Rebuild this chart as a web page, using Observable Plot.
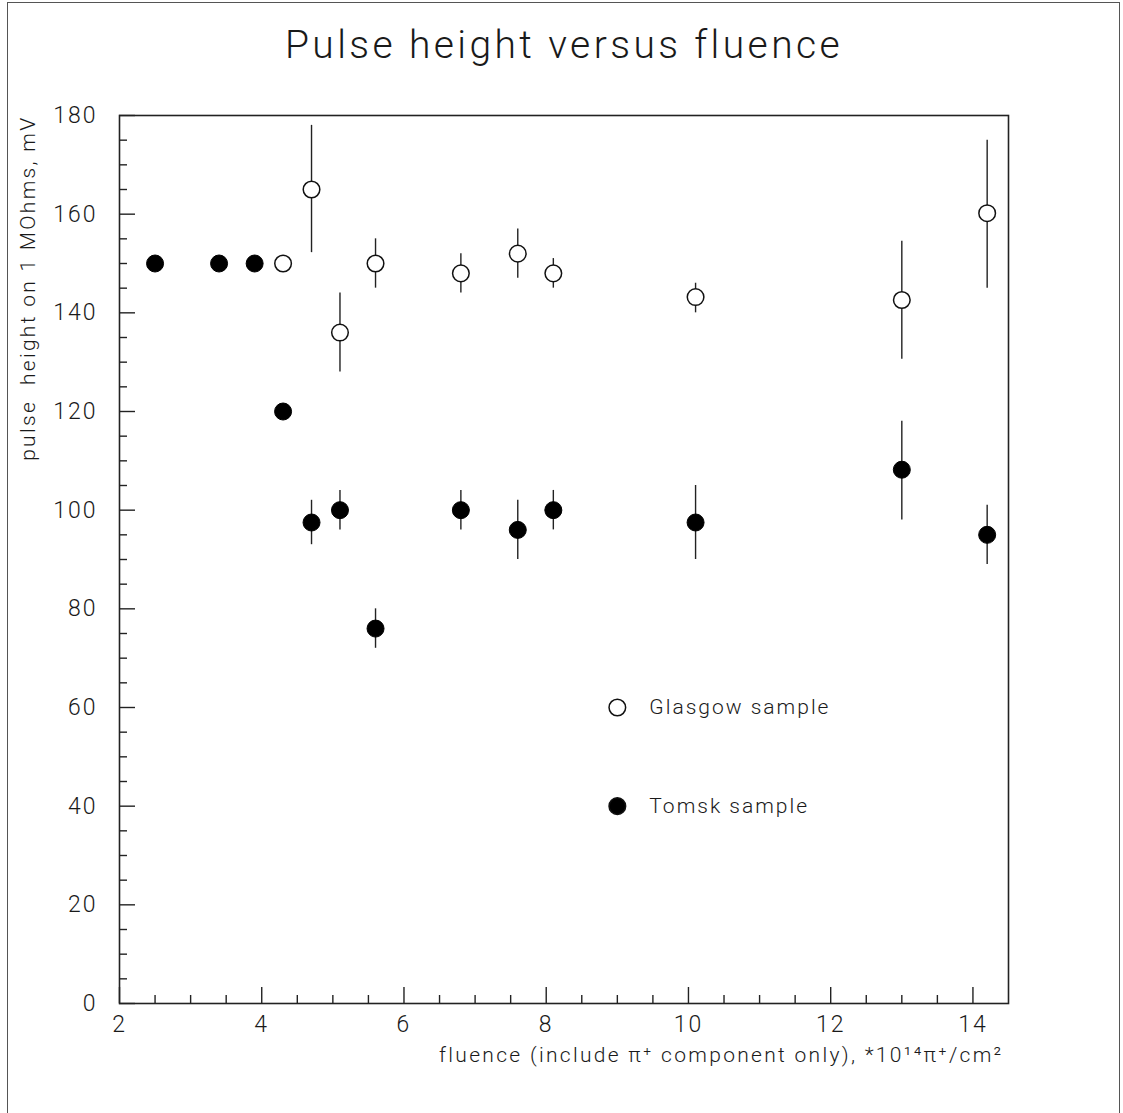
<!DOCTYPE html>
<html><head><meta charset="utf-8">
<script src="https://cdn.jsdelivr.net/npm/d3@7"></script>
<script src="https://cdn.jsdelivr.net/npm/@observablehq/plot@0.6"></script>
<style>
body{margin:0;background:#fff;}
#wrap{position:relative;width:1123px;height:1113px;overflow:hidden;background:#fff;}
#border{position:absolute;left:7px;top:2px;width:1113px;height:1200px;border:1.5px solid #555;border-bottom:none;box-sizing:border-box;pointer-events:none;}
.ls-title text{letter-spacing:3.4px;}
.ls-label text{letter-spacing:2.3px;}
.ls-legend text{letter-spacing:2px;}
.ls-tick text{letter-spacing:2px;}
</style></head><body><div id="wrap"></div>
<script>
// Glasgow sample (open circles)
const glasgowX  = [4.3, 4.7, 5.1, 5.6, 6.8, 7.6, 8.1, 10.1, 13.0, 14.2];
const glasgowY  = [150, 165, 136, 150, 148, 152, 148, 143.2, 142.6, 160.2];
const glasgowLo = [null, 152.2, 128, 145, 144, 147, 145, 140, 130.6, 145];
const glasgowHi = [null, 178, 144, 155, 152, 157, 151, 146, 154.5, 175];
// Tomsk sample (filled circles)
const tomskX  = [2.5, 3.4, 3.9, 4.3, 4.7, 5.1, 5.6, 6.8, 7.6, 8.1, 10.1, 13.0, 14.2];
const tomskY  = [150, 150, 150, 120, 97.5, 100, 76, 100, 96, 100, 97.5, 108.2, 95];
const tomskLo = [null, null, null, null, 93, 96, 72, 96, 90, 96, 90, 98, 89];
const tomskHi = [null, null, null, null, 102, 104, 80, 104, 102, 104, 105, 118, 101];
// ticks
const xMajorTicks = [2, 4, 6, 8, 10, 12, 14];
const xMinorTicks = [2.5, 3, 3.5, 4.5, 5, 5.5, 6.5, 7, 7.5, 8.5, 9, 9.5, 10.5, 11, 11.5, 12.5, 13, 13.5];
const yMajorTicks = [0, 20, 40, 60, 80, 100, 120, 140, 160, 180];
const yMinorTicks = [5, 10, 15, 25, 30, 35, 45, 50, 55, 65, 70, 75, 85, 90, 95, 105, 110, 115, 125, 130, 135, 145, 150, 155, 165, 170, 175];
// texts
const titleText = "Pulse height versus fluence";
const xLabelText = "fluence (include \u03c0\u207a component only), *10\u00b9\u2074\u03c0\u207a/cm\u00b2";
const yLabelText = "pulse  height on 1 MOhms, mV";
// legend
const legendLabels = ["Glasgow sample", "Tomsk sample"];
const legendFilled = [false, true];
const legendX = 9.0;
const legendTextX = 9.45;
const legendY = [60, 40];

const glasgow = glasgowX.map((x, i) => ({x, y: glasgowY[i], lo: glasgowLo[i], hi: glasgowHi[i]}));
const tomsk = tomskX.map((x, i) => ({x, y: tomskY[i], lo: tomskLo[i], hi: tomskHi[i]}));
const legend = legendLabels.map((t, i) => ({t, y: legendY[i], filled: legendFilled[i]}));

const ink = "#1a1a1a";
const font = "Roboto, 'Liberation Sans', sans-serif";

const chart = Plot.plot({
  width: 1123,
  height: 1113,
  marginLeft: 119,
  marginRight: 115,
  marginTop: 115,
  marginBottom: 110,
  style: {fontFamily: font, fontWeight: 300, color: ink, background: "white"},
  x: {domain: [2, 14.5]},
  y: {domain: [0, 180]},
  marks: [
    Plot.frame({stroke: "#222", strokeWidth: 1.6}),
    // tick label axes
    Plot.axisX(xMajorTicks, {tickSize: 0, tickPadding: 12, fontSize: 23, label: null, fill: ink, className: "ls-tick"}),
    Plot.axisY(yMajorTicks, {tickSize: 0, tickPadding: 22, fontSize: 23, label: null, fill: ink, className: "ls-tick"}),
    // inward tick marks
    Plot.axisX(xMajorTicks, {tickSize: -16, text: null, label: null, stroke: "#222", strokeWidth: 1.4}),
    Plot.axisX(xMinorTicks, {tickSize: -8, text: null, label: null, stroke: "#222", strokeWidth: 1.4}),
    Plot.axisY(yMajorTicks, {tickSize: -16, text: null, label: null, stroke: "#222", strokeWidth: 1.4}),
    Plot.axisY(yMinorTicks, {tickSize: -8, text: null, label: null, stroke: "#222", strokeWidth: 1.4}),
    // error bars
    Plot.ruleX(glasgow.filter(d => d.lo != null), {x: "x", y1: "lo", y2: "hi", stroke: "#222", strokeWidth: 1.4}),
    Plot.ruleX(tomsk.filter(d => d.lo != null), {x: "x", y1: "lo", y2: "hi", stroke: "#222", strokeWidth: 1.4}),
    // points
    Plot.dot(glasgow, {x: "x", y: "y", r: 8.3, fill: "white", stroke: "#111", strokeWidth: 1.5}),
    Plot.dot(tomsk, {x: "x", y: "y", r: 8.5, fill: "black", stroke: "black", strokeWidth: 1}),
    // legend
    Plot.dot(legend, {x: () => legendX, y: "y", r: 8.3, fill: d => d.filled ? "black" : "white", stroke: "#111", strokeWidth: 1.5}),
    Plot.text(legend, {x: () => legendTextX, y: "y", text: "t", textAnchor: "start", fontSize: 21, fill: ink, lineAnchor: "middle", className: "ls-legend"}),
    // title and axis labels
    Plot.text([titleText], {frameAnchor: "top", dy: -70, fontSize: 39, fill: ink, lineAnchor: "middle", className: "ls-title"}),
    Plot.text([xLabelText], {frameAnchor: "bottom-right", dx: -5, dy: 52, fontSize: 21, fill: ink, textAnchor: "end", lineAnchor: "middle", className: "ls-label"}),
    Plot.text([yLabelText], {frameAnchor: "top-left", dx: -91, dy: 0, rotate: -90, fontSize: 21, fill: ink, textAnchor: "end", lineAnchor: "middle", className: "ls-label"})
  ]
});
const wrap = document.getElementById("wrap");
wrap.appendChild(chart);
const b = document.createElement("div");
b.id = "border";
wrap.appendChild(b);
</script>
</body></html>
